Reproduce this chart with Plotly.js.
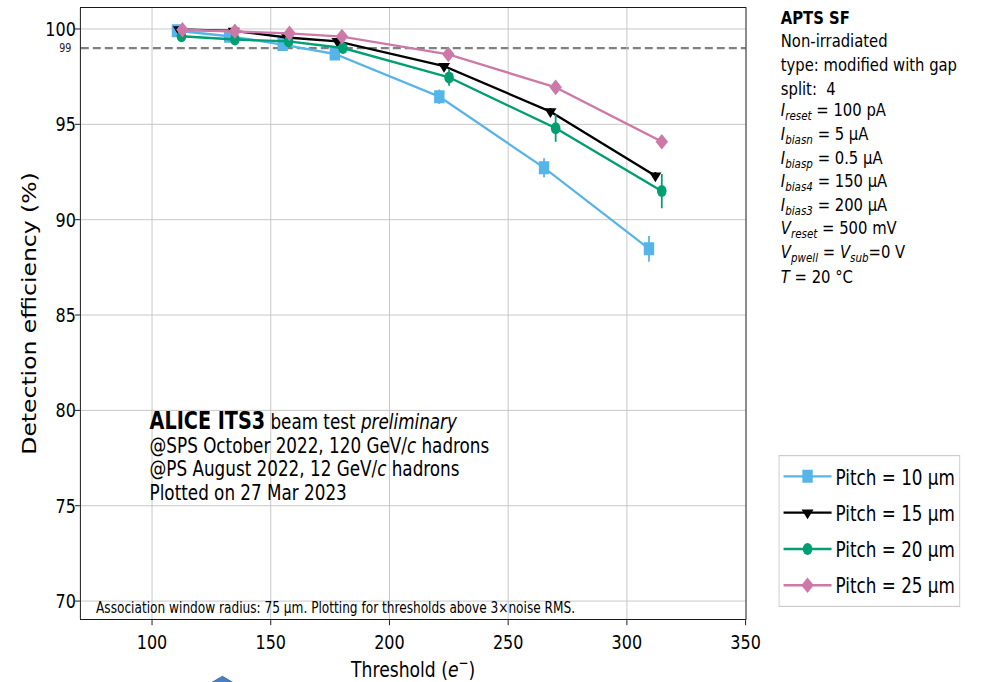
<!DOCTYPE html>
<html>
<head>
<meta charset="utf-8">
<script src="https://cdn.plot.ly/plotly-3.0.1.min.js"></script>
<style>
  html, body { margin: 0; padding: 0; overflow: hidden; background: #fff; }
  #chart { width: 1226px; height: 682px; transform: scale(0.8, 1); transform-origin: 0 0; }
</style>
</head>
<body>
<div id="chart"></div>
<script>
// ---- data ----
const seriesNames = ["Pitch = 10 μm", "Pitch = 15 μm", "Pitch = 20 μm", "Pitch = 25 μm"];

const thr10 = [110.5, 132.5, 155.0, 177.0, 221.0, 265.1, 309.3];
const eff10 = [99.91, 99.62, 99.18, 98.69, 96.45, 92.72, 88.47];
const err10 = [0.15, 0.15, 0.15, 0.2, 0.38, 0.5, 0.68];

const thr15 = [111.3, 134.4, 156.9, 178.1, 223.0, 267.8, 312.0];
const eff15 = [99.97, 99.9, 99.55, 99.35, 98.05, 95.67, 92.3];
const err15 = [0.05, 0.08, 0.1, 0.12, 0.15, 0.18, 0.2];

const thr20 = [112.4, 134.9, 157.5, 180.4, 225.1, 270.0, 314.7];
const eff20 = [99.62, 99.45, 99.35, 99.0, 97.46, 94.8, 91.5];
const err20 = [0.12, 0.15, 0.15, 0.2, 0.44, 0.72, 0.9];

const thr25 = [112.8, 134.9, 157.9, 180.0, 224.8, 270.0, 314.7];
const eff25 = [99.96, 99.88, 99.77, 99.6, 98.67, 96.94, 94.09];
const err25 = [0.08, 0.08, 0.1, 0.1, 0.12, 0.15, 0.15];

const refLevel = 99;
const yTicks = [70, 75, 80, 85, 90, 95, 100];
const xTicks = [100, 150, 200, 250, 300, 350];

const infoLines = [
  "<b>APTS SF</b>",
  "Non-irradiated",
  "type: modified with gap",
  "split:\u00a0 4",
  "<i>I</i><sub><i>reset</i></sub> = 100 pA",
  "<i>I</i><sub><i>biasn</i></sub> = 5 μA",
  "<i>I</i><sub><i>biasp</i></sub> = 0.5 μA",
  "<i>I</i><sub><i>bias4</i></sub> = 150 μA",
  "<i>I</i><sub><i>bias3</i></sub> = 200 μA",
  "<i>V</i><sub><i>reset</i></sub> = 500 mV",
  "<i>V</i><sub><i>pwell</i></sub> = <i>V</i><sub><i>sub</i></sub>=0 V",
  "<i>T</i> = 20 °C"
];
const aliceLines = [
  "<b><span style=\"font-size:24px\">ALICE ITS3</span></b> beam test <i>preliminary</i>",
  "@SPS October 2022, 120 GeV/<i>c</i> hadrons",
  "@PS August 2022, 12 GeV/<i>c</i> hadrons",
  "Plotted on 27 Mar 2023"
];
const footNote = "Association window radius: 75 μm. Plotting for thresholds above 3×noise RMS.";

// ---- styling ----
const FONT = "DejaVu Sans, Verdana, sans-serif";
const colors = ["#56B4E9", "#000000", "#009E73", "#CC79A7"];
const symbols = ["square", "triangle-down", "circle", "diamond"];
const msizes = [13, 13, 12, 12];

const X = [thr10, thr15, thr20, thr25];
const Y = [eff10, eff15, eff20, eff25];
const E = [err10, err15, err20, err25];

const traces = seriesNames.map((name, i) => ({
  type: "scatter",
  mode: "lines+markers",
  name: name,
  legendgroup: "g" + i,
  x: X[i], y: Y[i],
  error_y: { type: "data", array: E[i], visible: true, color: colors[i], thickness: 2.2, width: 0 },
  line: { color: colors[i], width: 2.4 },
  marker: { color: colors[i], symbol: symbols[i], size: msizes[i] }
}));

// geometry helpers (plot area in page pixels of the unscaled div)
const L = 101.25, R = 293.5, T = 8, B = 63;
const PW = 1226 - L - R, PH = 682 - T - B;
const px2paperX = p => (p / 0.8 - L) / PW;   // p = final (scaled) page x
const py2paperY = p => (682 - B - p) / PH;

const annotations = [];
const infoY0 = 17.5, infoDy = 23.5;
infoLines.forEach((t, k) => annotations.push({
  xref: "paper", yref: "paper", x: px2paperX(780), y: py2paperY(infoY0 + k * infoDy),
  xanchor: "left", yanchor: "middle", showarrow: false, align: "left",
  text: t, font: { family: FONT, size: 18.5, color: "#000" }
}));
const aliceYs = [421, 446, 469.3, 492.6];
aliceLines.forEach((t, k) => annotations.push({
  xref: "paper", yref: "paper", x: px2paperX(148), y: py2paperY(aliceYs[k]),
  xanchor: "left", yanchor: "middle", showarrow: false, align: "left",
  text: t, font: { family: FONT, size: 21, color: "#000" }
}));
annotations.push({
  xref: "paper", yref: "paper", x: px2paperX(95), y: py2paperY(608),
  xanchor: "left", yanchor: "middle", showarrow: false,
  text: footNote, font: { family: FONT, size: 15.2, color: "#000" }
});
annotations.push({
  xref: "paper", yref: "y", x: px2paperX(73), y: refLevel,
  xanchor: "right", yanchor: "middle", showarrow: false,
  text: String(refLevel), font: { family: FONT, size: 12, color: "#222" }
});

const layout = {
  width: 1226, height: 682,
  margin: { l: L, r: R, t: T, b: B, pad: 0 },
  paper_bgcolor: "#ffffff", plot_bgcolor: "#ffffff",
  font: { family: FONT, color: "#000" },
  showlegend: true,
  legend: {
    x: px2paperX(779), y: py2paperY(455), xanchor: "left", yanchor: "top",
    font: { family: FONT, size: 21, color: "#000" },
    bordercolor: "#cccccc", borderwidth: 1.2, bgcolor: "#ffffff",
    tracegroupgap: 6, traceorder: "grouped", itemwidth: 60
  },
  xaxis: {
    range: [70, 350], tickvals: xTicks, ticktext: xTicks.map(String),
    ticks: "outside", ticklen: 5, tickwidth: 1.2, tickcolor: "#000",
    showgrid: true, gridcolor: "#c2c2c2", gridwidth: 1.4, zeroline: false,
    showline: true, mirror: true, linecolor: "#000", linewidth: 1.3,
    tickfont: { family: FONT, size: 20, color: "#000" },
    title: { text: "Threshold (<i>e</i><sup>−</sup>)", font: { family: FONT, size: 21.5, color: "#000" }, standoff: 8 },
    automargin: false
  },
  yaxis: {
    range: [69.06, 101.1], tickvals: yTicks, ticktext: yTicks.map(String),
    ticks: "outside", ticklen: 6, tickwidth: 1.2, tickcolor: "#000",
    ticklabelstandoff: -5,
    showgrid: true, gridcolor: "#c2c2c2", gridwidth: 1.4, zeroline: false,
    showline: true, mirror: true, linecolor: "#000", linewidth: 1.3,
    tickfont: { family: FONT, size: 20, color: "#000" },
    title: { text: "Detection efficiency (%)", font: { family: FONT, size: 23.5, color: "#000" }, standoff: 4 },
    automargin: false
  },
  shapes: [
    { type: "line", xref: "paper", x0: 0, x1: 1, yref: "y", y0: refLevel, y1: refLevel,
      line: { color: "#808080", width: 2.2, dash: "10px,5px" }, layer: "below" },
    { type: "path", xref: "paper", yref: "paper",
      path: "M " + px2paperX(211) + "," + py2paperY(683) + " L " + px2paperX(222.7) + "," + py2paperY(676.3) +
            " L " + px2paperX(234) + "," + py2paperY(683) + " Z",
      fillcolor: "#4a7fc4", line: { color: "#3a6aa8", width: 1 }, layer: "above" }
  ],
  annotations: annotations
};

Plotly.newPlot("chart", traces, layout, { displayModeBar: false });
</script>
</body>
</html>
